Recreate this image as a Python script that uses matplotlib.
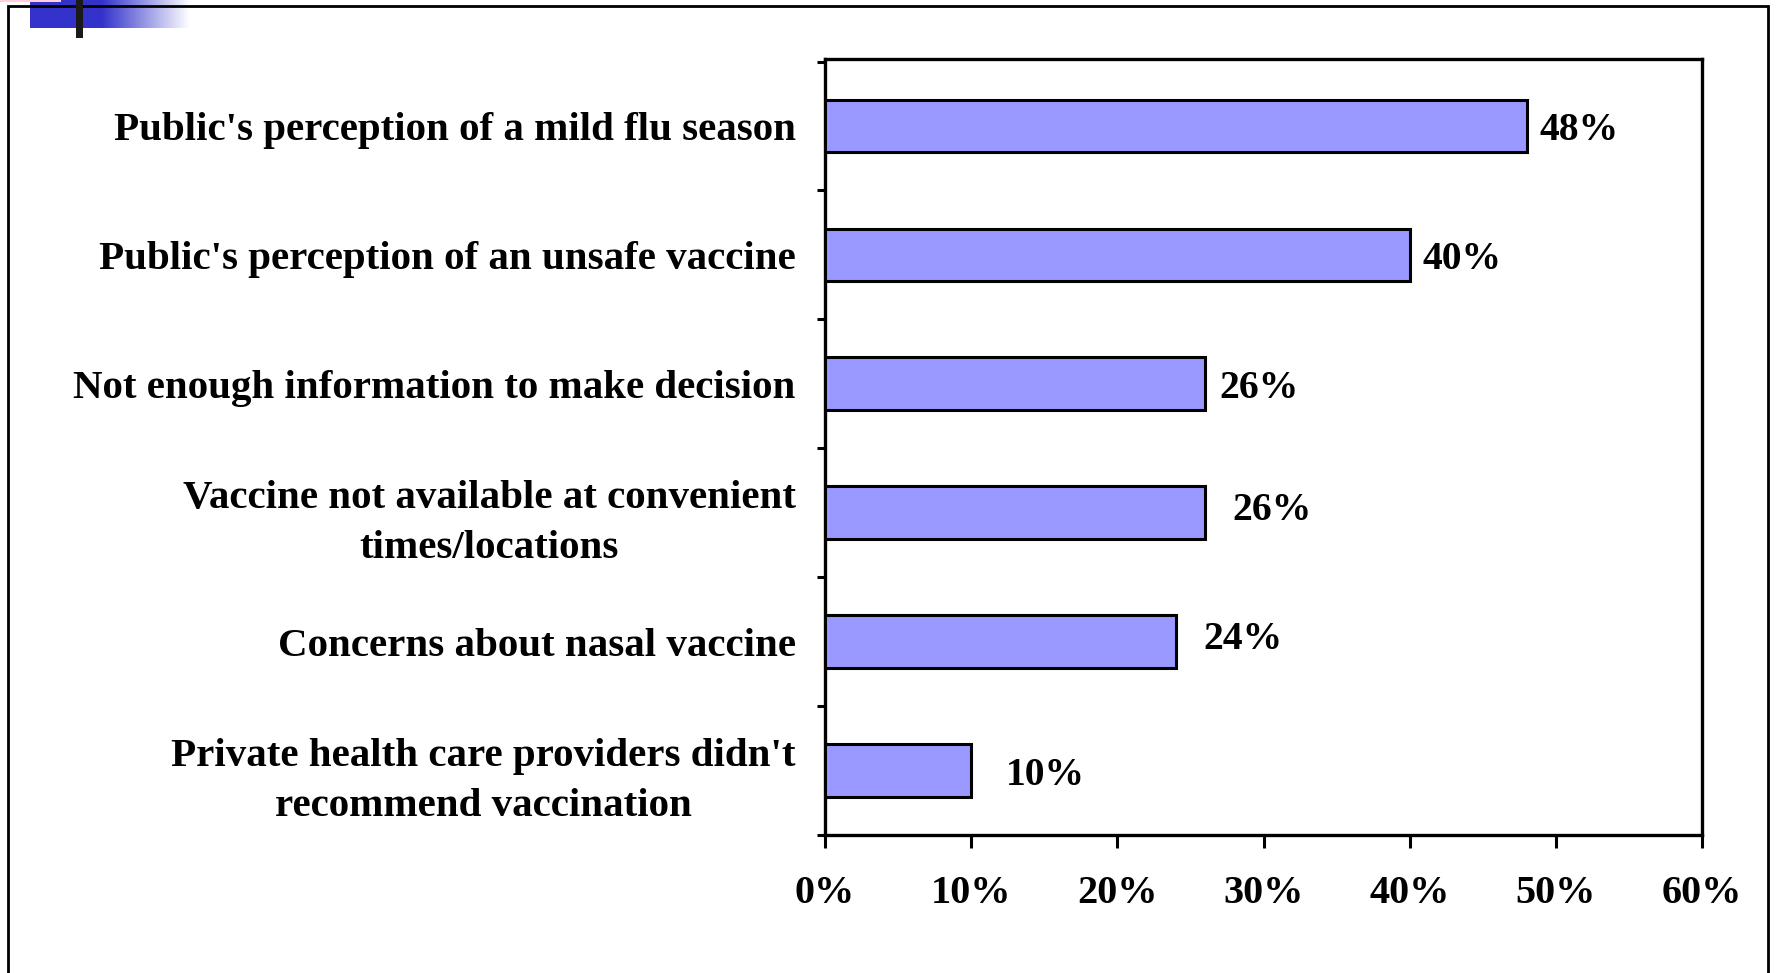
import matplotlib
matplotlib.use("Agg")
import matplotlib.pyplot as plt
import numpy as np
from matplotlib.patches import Rectangle

categories = [
    "Public's perception of a mild flu season",
    "Public's perception of an unsafe vaccine",
    "Not enough information to make decision",
    "Vaccine not available at convenient\ntimes/locations",
    "Concerns about nasal vaccine",
    "Private health care providers didn't\nrecommend vaccination",
]
values = [48, 40, 26, 26, 24, 10]
value_labels = ["48%", "40%", "26%", "26%", "24%", "10%"]
xticks = [0, 10, 20, 30, 40, 50, 60]
xtick_labels = ["0%", "10%", "20%", "30%", "40%", "50%", "60%"]

# style: label offsets in pixels
label_dx_px = [13, 13, 14, 27, 28, 35]
label_dy_px = [0, 0, 0, 7, 7, 0]

W, H = 1777, 973
fig = plt.figure(figsize=(W / 100, H / 100), dpi=100)
plt.rcParams['font.family'] = ['Liberation Serif', 'DejaVu Serif']
FS = 29

ax = fig.add_axes([825 / W, 1 - 835 / H, (1702 - 825) / W, (835 - 59) / H])
y = np.arange(len(categories))
ax.barh(y, values, height=0.41, color="#9999FF", edgecolor="black", linewidth=2.2, zorder=3)
ax.set_xlim(0, 60)
ax.set_ylim(len(categories) - 0.5, -0.52)

for i, (v, lab) in enumerate(zip(values, value_labels)):
    ax.annotate(lab, xy=(v, i), xytext=(label_dx_px[i] * 0.72, label_dy_px[i] * 0.72),
                textcoords="offset points", ha="left", va="center_baseline",
                fontsize=28.5, fontweight="bold")

ax.set_xticks(xticks)
ax.set_xticklabels(xtick_labels, fontsize=FS, fontweight="bold")
ax.set_yticks(y)
ax.set_yticklabels(categories, fontsize=29.5, fontweight="bold", linespacing=1.45)
for t in ax.get_yticklabels():
    t.set_multialignment("center")
ax.set_yticks(np.arange(-0.5, len(categories), 1.0), minor=True)
ax.tick_params(axis="y", which="major", length=0, pad=21)
ax.tick_params(axis="y", which="minor", length=6, width=2.2, direction="out")
ax.tick_params(axis="x", which="major", length=9, width=2.2, direction="out", pad=20)
for s in ax.spines.values():
    s.set_linewidth(2.4)

# slide frame
fig.add_artist(Rectangle((8 / W, -0.05), (1768 - 8) / W, 1.05 - 6 / H,
                         transform=fig.transFigure, fill=False, edgecolor="black", linewidth=2))

# decorations top-left
gax = fig.add_axes([30 / W, 1 - 28 / H, 160 / W, 28 / H])
n = 200
t = np.linspace(0, 1, n)
alpha = np.clip((t - 0.45) / 0.55, 0, 1)
base = np.array([0x33, 0x33, 0xCC]) / 255.0
grad = base[None, :] * (1 - alpha[:, None]) + alpha[:, None] * 1.0
gax.imshow(grad[None, :, :], aspect="auto", extent=(0, 1, 0, 1))
gax.axis("off")
fig.add_artist(Rectangle((0, 1 - 2 / H), 61 / W, 2 / H, transform=fig.transFigure,
                         facecolor="#FFD0D8", edgecolor="none"))
fig.add_artist(Rectangle((76 / W, 1 - 38 / H), 7 / W, 38 / H, transform=fig.transFigure,
                         facecolor="#1A1A1A", edgecolor="none"))

fig.savefig("out.png", dpi=100)
